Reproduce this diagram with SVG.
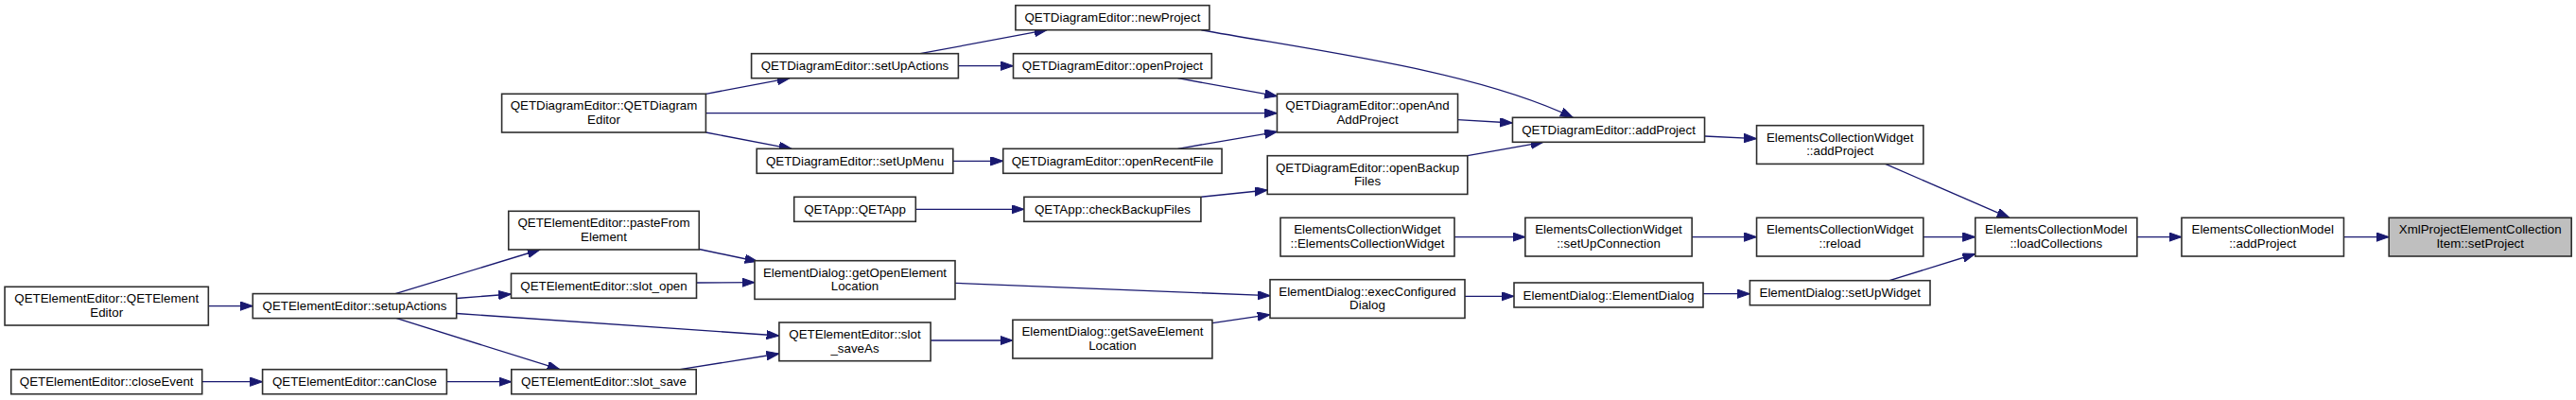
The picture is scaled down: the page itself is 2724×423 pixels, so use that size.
<svg xmlns="http://www.w3.org/2000/svg" width="2724" height="423" viewBox="0 0 2724 423">
<style>
.n rect{fill:#ffffff;stroke:#2e2e2e;stroke-width:1.6}
.n.root rect{fill:#bfbfbf}
.n text{font-family:"Liberation Sans",Arial,sans-serif;font-size:13.33px;fill:#000;text-anchor:middle}
.e path{fill:none;stroke:#191970;stroke-width:1.33;marker-end:url(#arr)}
</style>
<defs>
<marker id="arr" markerUnits="userSpaceOnUse" markerWidth="14" markerHeight="10" refX="13.3" refY="4.67" orient="auto">
<path d="M0,0 L13.3,4.67 L0,9.33 z" fill="#191970" stroke="#191970" stroke-width="1"/>
</marker>
</defs>
<rect width="2724" height="423" fill="#ffffff"/>
<g id="connectors" class="e">
<path d="M220.4,323.6 L267.3,323.6"/>
<path d="M213.7,403.7 L277.6,403.7"/>
<path d="M472.4,403.7 L540.8,403.7"/>
<path d="M418,310.6 L571,264"/>
<path d="M482.7,315.5 L540.5,311"/>
<path d="M482.7,331.5 L823.9,355"/>
<path d="M418,336.2 L592,390.7"/>
<path d="M739.3,263.5 L801,276.5"/>
<path d="M736.5,299 L798,298.7"/>
<path d="M719,390.7 L823.9,374"/>
<path d="M984.1,360 L1070.9,360"/>
<path d="M1010,299.3 L1343,312.7"/>
<path d="M1282,341.7 L1343,332.7"/>
<path d="M1549,313.3 L1601,313.3"/>
<path d="M1801,310.7 L1850.4,310.7"/>
<path d="M1998,296.7 L2088.75,268.5"/>
<path d="M1538,250.6 L1612.85,250.6"/>
<path d="M1789.15,250.6 L1857.55,250.6"/>
<path d="M2033.85,250.6 L2088.75,250.6"/>
<path d="M1993.7,173.4 L2125,230.3"/>
<path d="M2259.85,250.6 L2306.95,250.6"/>
<path d="M2478.45,250.6 L2526.2,250.6"/>
<path d="M1802.55,144 L1857.55,146.7"/>
<path d="M1541.55,126.7 L1599.45,130"/>
<path d="M1551.8,164.7 L1632,150.3"/>
<path d="M1270,31.7 C1400,55 1560,75 1663.4,124.3"/>
<path d="M1269.9,208.3 L1340.2,201"/>
<path d="M968.3,221.3 L1082.9,221.3"/>
<path d="M1245.5,157.3 L1350.45,139.3"/>
<path d="M1007.8,170.3 L1060.75,170.3"/>
<path d="M1245.5,82.7 L1350.45,101.7"/>
<path d="M1013.4,69.7 L1071.5,69.7"/>
<path d="M973,56.7 L1107,31.7"/>
<path d="M746.4,99.3 L835,82.7"/>
<path d="M746.4,119.7 L1350.45,119.7"/>
<path d="M746.4,140 L837,157.3"/>
</g>
<g id="n1" class="n root"><rect x="2526.2" y="230.3" width="193" height="40.7"/><text x="2622.7" y="247.1">XmlProjectElementCollection</text><text x="2622.7" y="261.8">Item::setProject</text></g>
<g id="n2" class="n"><rect x="2306.95" y="230.3" width="171.5" height="40.7"/><text x="2392.7" y="247.1">ElementsCollectionModel</text><text x="2392.7" y="261.8">::addProject</text></g>
<g id="n3" class="n"><rect x="2088.75" y="230.3" width="171.1" height="40.7"/><text x="2174.3" y="247.1">ElementsCollectionModel</text><text x="2174.3" y="261.8">::loadCollections</text></g>
<g id="n4" class="n"><rect x="1857.55" y="132.7" width="176.3" height="40.7"/><text x="1945.7" y="149.5">ElementsCollectionWidget</text><text x="1945.7" y="164.2">::addProject</text></g>
<g id="n5" class="n"><rect x="1857.55" y="230.3" width="176.3" height="40.7"/><text x="1945.7" y="247.1">ElementsCollectionWidget</text><text x="1945.7" y="261.8">::reload</text></g>
<g id="n6" class="n"><rect x="1850.4" y="296.7" width="190.6" height="26"/><text x="1945.7" y="314.2">ElementDialog::setUpWidget</text></g>
<g id="n7" class="n"><rect x="1599.45" y="124.3" width="203.1" height="26"/><text x="1701" y="141.8">QETDiagramEditor::addProject</text></g>
<g id="n8" class="n"><rect x="1612.85" y="230.3" width="176.3" height="40.7"/><text x="1701" y="247.1">ElementsCollectionWidget</text><text x="1701" y="261.8">::setUpConnection</text></g>
<g id="n9" class="n"><rect x="1601" y="299" width="200" height="26"/><text x="1701" y="316.5">ElementDialog::ElementDialog</text></g>
<g id="n10" class="n"><rect x="1350.45" y="99.3" width="191.1" height="40.7"/><text x="1446" y="116.1">QETDiagramEditor::openAnd</text><text x="1446" y="130.8">AddProject</text></g>
<g id="n11" class="n"><rect x="1340.2" y="164.7" width="211.6" height="40.7"/><text x="1446" y="181.5">QETDiagramEditor::openBackup</text><text x="1446" y="196.2">Files</text></g>
<g id="n12" class="n"><rect x="1354" y="230.3" width="184" height="40.7"/><text x="1446" y="247.1">ElementsCollectionWidget</text><text x="1446" y="261.8">::ElementsCollectionWidget</text></g>
<g id="n13" class="n"><rect x="1343" y="295.7" width="206" height="40.7"/><text x="1446" y="312.5">ElementDialog::execConfigured</text><text x="1446" y="327.2">Dialog</text></g>
<g id="n14" class="n"><rect x="1073.9" y="5.7" width="205" height="26"/><text x="1176.4" y="23.2">QETDiagramEditor::newProject</text></g>
<g id="n15" class="n"><rect x="1071.5" y="56.7" width="209.8" height="26"/><text x="1176.4" y="74.2">QETDiagramEditor::openProject</text></g>
<g id="n16" class="n"><rect x="1060.75" y="157.3" width="231.3" height="26"/><text x="1176.4" y="174.8">QETDiagramEditor::openRecentFile</text></g>
<g id="n17" class="n"><rect x="1082.9" y="208.3" width="187" height="26"/><text x="1176.4" y="225.8">QETApp::checkBackupFiles</text></g>
<g id="n18" class="n"><rect x="1070.9" y="338.3" width="211" height="40.7"/><text x="1176.4" y="355.1">ElementDialog::getSaveElement</text><text x="1176.4" y="369.8">Location</text></g>
<g id="n19" class="n"><rect x="794.6" y="56.7" width="218.8" height="26"/><text x="904" y="74.2">QETDiagramEditor::setUpActions</text></g>
<g id="n20" class="n"><rect x="800.2" y="157.3" width="207.6" height="26"/><text x="904" y="174.8">QETDiagramEditor::setUpMenu</text></g>
<g id="n21" class="n"><rect x="839.7" y="208.3" width="128.6" height="26"/><text x="904" y="225.8">QETApp::QETApp</text></g>
<g id="n22" class="n"><rect x="798" y="275.7" width="212" height="40.7"/><text x="904" y="292.5">ElementDialog::getOpenElement</text><text x="904" y="307.2">Location</text></g>
<g id="n23" class="n"><rect x="823.9" y="341" width="160.2" height="40.7"/><text x="904" y="357.8">QETElementEditor::slot</text><text x="904" y="372.5">_saveAs</text></g>
<g id="n24" class="n"><rect x="530.6" y="99.3" width="215.8" height="40.7"/><text x="638.5" y="116.1">QETDiagramEditor::QETDiagram</text><text x="638.5" y="130.8">Editor</text></g>
<g id="n25" class="n"><rect x="537.75" y="223.3" width="201.5" height="40.7"/><text x="638.5" y="240.1">QETElementEditor::pasteFrom</text><text x="638.5" y="254.8">Element</text></g>
<g id="n26" class="n"><rect x="540.5" y="289.3" width="196" height="26"/><text x="638.5" y="306.8">QETElementEditor::slot_open</text></g>
<g id="n27" class="n"><rect x="540.8" y="390.7" width="195.4" height="26"/><text x="638.5" y="408.2">QETElementEditor::slot_save</text></g>
<g id="n28" class="n"><rect x="267.3" y="310.6" width="215.4" height="26"/><text x="375" y="328.1">QETElementEditor::setupActions</text></g>
<g id="n29" class="n"><rect x="277.6" y="390.7" width="194.8" height="26"/><text x="375" y="408.2">QETElementEditor::canClose</text></g>
<g id="n30" class="n"><rect x="5.05" y="303.3" width="215.3" height="40.7"/><text x="112.7" y="320.1">QETElementEditor::QETElement</text><text x="112.7" y="334.8">Editor</text></g>
<g id="n31" class="n"><rect x="11.7" y="390.7" width="202" height="26"/><text x="112.7" y="408.2">QETElementEditor::closeEvent</text></g>
</svg>
